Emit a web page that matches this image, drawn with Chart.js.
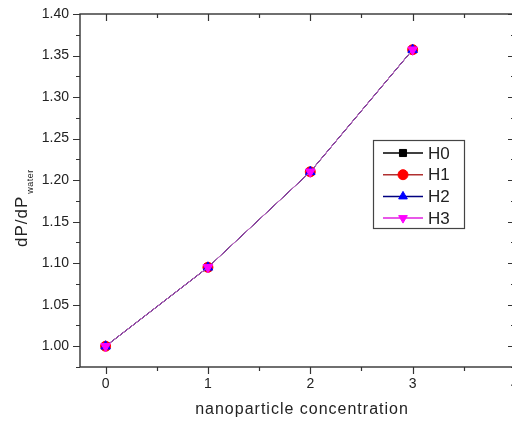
<!DOCTYPE html>
<html>
<head>
<meta charset="utf-8">
<script src="https://cdn.jsdelivr.net/npm/chart.js@4/dist/chart.umd.min.js"></script>
<style>
  html, body { margin: 0; padding: 0; background: #fff; overflow: hidden; }
  #wrap { width: 540px; height: 424px; }
</style>
</head>
<body>
<div id="wrap"><canvas id="myChart" width="540" height="424"></canvas></div>
<script>
// data
var concentration = [0, 1, 2, 3];
var h0 = [1.000, 1.095, 1.210, 1.357];
var h1 = [1.000, 1.095, 1.210, 1.357];
var h2 = [1.000, 1.095, 1.210, 1.357];
var h3 = [1.000, 1.095, 1.210, 1.357];
var seriesNames = ["H0", "H1", "H2", "H3"];
var xTicks = [0, 1, 2, 3, 4];
var yTicks = [1.00, 1.05, 1.10, 1.15, 1.20, 1.25, 1.30, 1.35, 1.40];

var FONT = '"Liberation Sans", Arial, sans-serif';

function pts(arr) {
    return concentration.map(function (c, i) { return { x: c, y: arr[i] }; });
}

// frame with origin-style ticks, axis titles and boxed legend
var framePlugin = {
    id: 'frame',
    afterDraw: function (chart) {
        var ctx = chart.ctx;
        var a = chart.chartArea;
        var xs = chart.scales.x, ys = chart.scales.y;
        ctx.save();
        ctx.strokeStyle = '#333';
        ctx.lineWidth = 1.4;
        ctx.strokeRect(a.left, a.top, a.right - a.left, a.bottom - a.top);
        ctx.lineWidth = 1.2;
        ctx.beginPath();
        for (var v = 0.975; v <= 1.4001; v += 0.025) {
            var y = Math.round(ys.getPixelForValue(v)) + 0.5;
            var major = Math.abs(v / 0.05 - Math.round(v / 0.05)) < 0.01;
            var len = major ? 7 : 4;
            ctx.moveTo(a.left - len, y); ctx.lineTo(a.left, y);
            ctx.moveTo(a.right, y); ctx.lineTo(a.right - len, y);
        }
        for (var t = 0; t <= 4; t += 0.5) {
            var x = Math.round(xs.getPixelForValue(t)) + 0.5;
            var len2 = (t % 1 === 0) ? 7 : 4;
            ctx.moveTo(x, a.bottom); ctx.lineTo(x, a.bottom + len2);
            ctx.moveTo(x, a.top); ctx.lineTo(x, a.top + len2);
        }
        ctx.stroke();

        // axis titles
        ctx.fillStyle = '#222';
        ctx.font = '16px ' + FONT;
        ctx.letterSpacing = '1px';
        ctx.textAlign = 'center';
        ctx.textBaseline = 'middle';
        ctx.fillText('nanoparticle concentration', 302, 410);

        ctx.save();
        ctx.translate(27, 247);
        ctx.rotate(-Math.PI / 2);
        ctx.textAlign = 'left';
        ctx.textBaseline = 'alphabetic';
        ctx.font = '17px ' + FONT;
        ctx.fillText('dP/dP', 0, 0);
        var w = ctx.measureText('dP/dP').width;
        ctx.font = '9px ' + FONT;
        ctx.letterSpacing = '0.5px';
        ctx.fillText('water', w + 2, 6);
        ctx.restore();
        ctx.letterSpacing = '0px';

        // legend box
        var bx = 373, by = 140, bw = 91, bh = 88;
        ctx.fillStyle = '#fff';
        ctx.fillRect(bx, by, bw, bh);
        ctx.strokeStyle = '#444';
        ctx.lineWidth = 1.2;
        ctx.strokeRect(bx + 0.5, by + 0.5, bw, bh);
        chart.data.datasets.forEach(function (ds, i) {
            var ry = 153 + i * 21.7;
            ctx.strokeStyle = ds.legendLine;
            ctx.lineWidth = 1.5;
            ctx.beginPath();
            ctx.moveTo(383, ry); ctx.lineTo(423, ry);
            ctx.stroke();
            ctx.fillStyle = ds.pointBackgroundColor;
            ctx.strokeStyle = ds.pointBackgroundColor;
            ctx.lineWidth = 1;
            Chart.helpers.drawPoint(ctx, {
                pointStyle: ds.pointStyle, radius: 5, rotation: ds.pointRotation || 0, borderWidth: 1
            }, 403, ry);
            ctx.fillStyle = '#222';
            ctx.font = '17px ' + FONT;
            ctx.textAlign = 'left';
            ctx.textBaseline = 'middle';
            ctx.fillText(seriesNames[i], 428, ry + 1);
        });
        ctx.restore();
    }
};

var myChart = new Chart(document.getElementById("myChart").getContext("2d"), {
    type: 'line',
    data: {
        datasets: [
            { label: seriesNames[0], data: pts(h0), order: 3, borderColor: '#000000', legendLine: '#000000', pointBackgroundColor: '#000000', pointBorderColor: '#000000', pointStyle: 'rect', pointRadius: 5 },
            { label: seriesNames[1], data: pts(h1), order: 2, borderColor: '#b03030', legendLine: '#b03030', pointBackgroundColor: '#ff0000', pointBorderColor: '#ff0000', pointStyle: 'circle', pointRadius: 5 },
            { label: seriesNames[2], data: pts(h2), order: 1, borderColor: '#000080', legendLine: '#000080', pointBackgroundColor: '#0000ff', pointBorderColor: '#0000ff', pointStyle: 'triangle', pointRadius: 5.5 },
            { label: seriesNames[3], data: pts(h3), order: 0, borderColor: '#c060c8', legendLine: '#e020e0', pointBackgroundColor: '#ff00ff', pointBorderColor: '#ff00ff', pointStyle: 'triangle', pointRotation: 180, pointRadius: 5.5 }
        ]
    },
    options: {
        responsive: false,
        animation: false,
        elements: { line: { borderWidth: 1, tension: 0 }, point: { borderWidth: 1 } },
        layout: { padding: { top: 14, right: 25, left: 0, bottom: 0 } },
        plugins: { legend: { display: false }, tooltip: { enabled: false } },
        scales: {
            x: {
                type: 'linear', min: -0.25, max: 4,
                afterBuildTicks: function (s) { s.ticks = xTicks.map(function (v) { return { value: v }; }); },
                afterFit: function (s) { s.height = 57; s.paddingLeft = 0; s.paddingRight = 0; },
                grid: { display: false, drawTicks: false },
                border: { display: false },
                ticks: { padding: 9, color: '#222', font: { size: 14, family: FONT }, maxRotation: 0 }
            },
            y: {
                min: 0.975, max: 1.40,
                afterBuildTicks: function (s) { s.ticks = yTicks.map(function (v) { return { value: v }; }); },
                afterFit: function (s) { s.width = 80; s.paddingTop = 0; s.paddingBottom = 0; },
                grid: { display: false, drawTicks: false },
                border: { display: false },
                ticks: {
                    padding: 11, color: '#222', font: { size: 14, family: FONT },
                    callback: function (v) { return v.toFixed(2); }
                }
            }
        }
    },
    plugins: [framePlugin]
});
</script>
</body>
</html>
